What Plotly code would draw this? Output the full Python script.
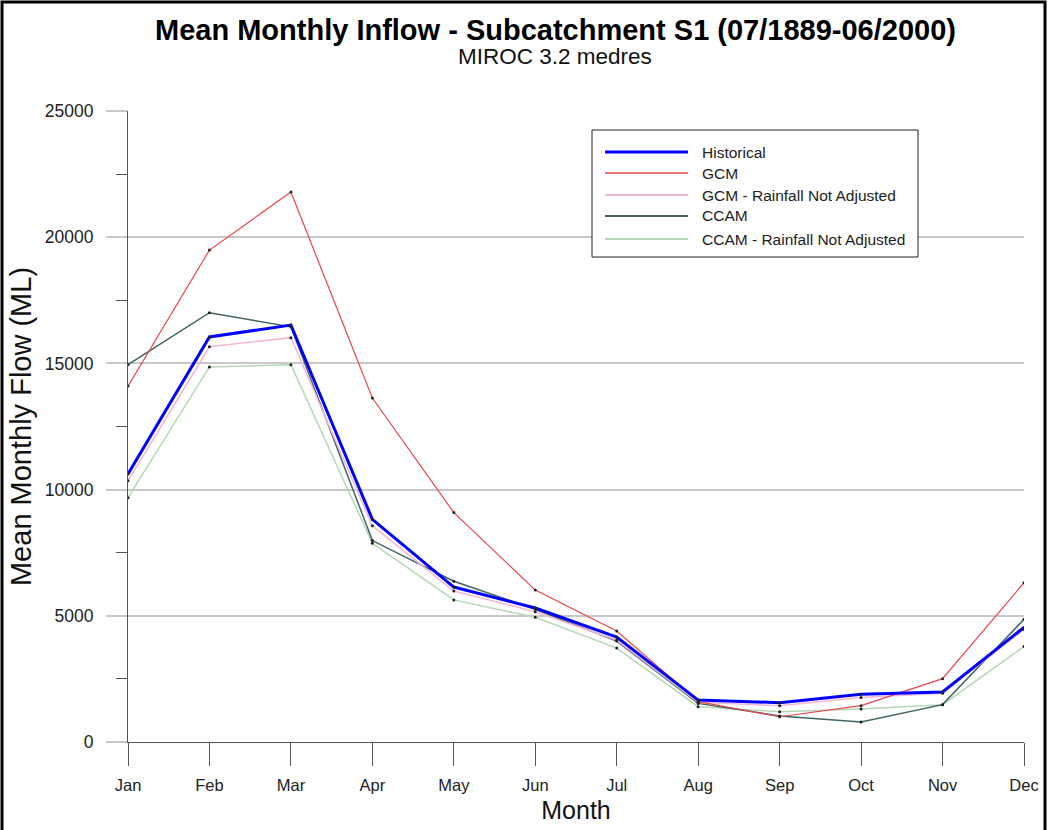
import plotly.graph_objects as go

months = ["Jan", "Feb", "Mar", "Apr", "May", "Jun", "Jul", "Aug", "Sep", "Oct", "Nov", "Dec"]

historical = [10620, 16050, 16520, 8820, 6140, 5310, 4160, 1660, 1560, 1890, 1980, 4540]
gcm = [14100, 19490, 21790, 13630, 9090, 6020, 4400, 1600, 1000, 1440, 2510, 6310]
gcm_rna = [10350, 15660, 16020, 8570, 5980, 5160, 4040, 1570, 1440, 1760, 1930, 4460]
ccam = [14950, 17010, 16450, 7980, 6370, 5260, 4000, 1530, 1030, 790, 1480, 4860]
ccam_rna = [9680, 14860, 14950, 7870, 5630, 4940, 3720, 1400, 1200, 1310, 1480, 3780]

y_ticks = [0, 5000, 10000, 15000, 20000, 25000]

series_names = ["Historical", "GCM", "GCM - Rainfall Not Adjusted", "CCAM", "CCAM - Rainfall Not Adjusted"]
series_values = [historical, gcm, gcm_rna, ccam, ccam_rna]
series_colors = ["#0000FF", "#E8484A", "#F4B8D4", "#3F6464", "#B4D8B4"]
series_widths = [3, 1.2, 1.5, 1.5, 1.5]

FONT = "Liberation Sans, Arial, sans-serif"

fig = go.Figure()
order = [4, 3, 2, 1, 0]
for i in order:
    fig.add_trace(go.Scatter(
        x=months, y=series_values[i], name=series_names[i], mode="lines",
        line=dict(color=series_colors[i], width=series_widths[i]),
        showlegend=False,
    ))
for i in order:
    fig.add_trace(go.Scatter(
        x=months, y=series_values[i], mode="markers", showlegend=False, hoverinfo="skip",
        marker=dict(size=3, color="#222222"),
    ))

L, R, T, B = 128, 25, 111, 88
W, H = 1049, 830
pw, ph = W - L - R, H - T - B


def px(x):
    return (x - L) / pw


def py(y):
    return 1 - (y - T) / ph


# legend drawn as a box with line samples and labels
shapes = [
    dict(type="rect", xref="paper", yref="paper",
         x0=px(592), x1=px(918), y0=py(257), y1=py(130),
         line=dict(color="#222222", width=1), fillcolor="white", layer="above"),
]
annotations = []
row_y = [152, 173, 195, 216, 239]
legend_widths = [3, 1.5, 2, 2, 2]
for k, name in enumerate(series_names):
    shapes.append(dict(type="line", xref="paper", yref="paper",
                       x0=px(605), x1=px(688), y0=py(row_y[k]), y1=py(row_y[k]),
                       line=dict(color=series_colors[k], width=legend_widths[k]),
                       layer="above"))
    annotations.append(dict(text=name, xref="paper", yref="paper", x=px(700), y=py(row_y[k]),
                            xanchor="left", yanchor="middle", showarrow=False,
                            font=dict(size=15.5, family=FONT, color="#222222")))

annotations += [
    dict(text="<b>Mean Monthly Inflow - Subcatchment S1 (07/1889-06/2000)</b>",
         xref="paper", yref="paper", x=px(555), y=py(30),
         xanchor="center", yanchor="middle", showarrow=False,
         font=dict(size=29, family=FONT, color="#000000")),
    dict(text="MIROC 3.2 medres",
         xref="paper", yref="paper", x=px(555), y=py(57),
         xanchor="center", yanchor="middle", showarrow=False,
         font=dict(size=22.5, family=FONT, color="#111111")),
]

shapes.append(dict(type="rect", xref="paper", yref="paper",
                   x0=px(2), x1=px(1045), y0=py(850), y1=py(2),
                   line=dict(color="#000000", width=3), fillcolor="rgba(0,0,0,0)", layer="above"))

fig.update_layout(
    width=W, height=H,
    margin=dict(l=L, r=R, t=T, b=B, autoexpand=False),
    paper_bgcolor="white", plot_bgcolor="white",
    font=dict(family=FONT, color="#222222"),
    showlegend=False,
    xaxis=dict(
        range=[0, 11], showgrid=False, zeroline=False, automargin=False,
        showline=True, linecolor="#555555", linewidth=1,
        ticks="outside", ticklen=23, tickcolor="#555555", tickwidth=1,
        tickfont=dict(size=16.5, family=FONT, color="#222222"),
        ticklabelstandoff=5,
        title=dict(text="Month", font=dict(size=25, family=FONT, color="#111111"), standoff=8),
    ),
    yaxis=dict(
        range=[0, 25000], tickvals=y_ticks, tickformat="d", automargin=False,
        showgrid=True, gridcolor="#C8C8C8", gridwidth=2, zeroline=False,
        showline=True, linecolor="#555555", linewidth=1,
        ticks="outside", ticklen=21, tickcolor="#C8C8C8", tickwidth=2,
        tickfont=dict(size=17.5, family=FONT, color="#222222"),
        ticklabelstandoff=9,
        minor=dict(dtick=2500, ticks="outside", ticklen=11, tickcolor="#555555", tickwidth=1, showgrid=False),
        title=dict(text="Mean Monthly Flow (ML)", font=dict(size=29, family=FONT, color="#111111"), standoff=4),
    ),
    annotations=annotations,
    shapes=shapes,
)

fig.write_html("out.html", config={"displayModeBar": False},
               post_script="document.body.style.margin='0';document.body.style.overflow='hidden';")
